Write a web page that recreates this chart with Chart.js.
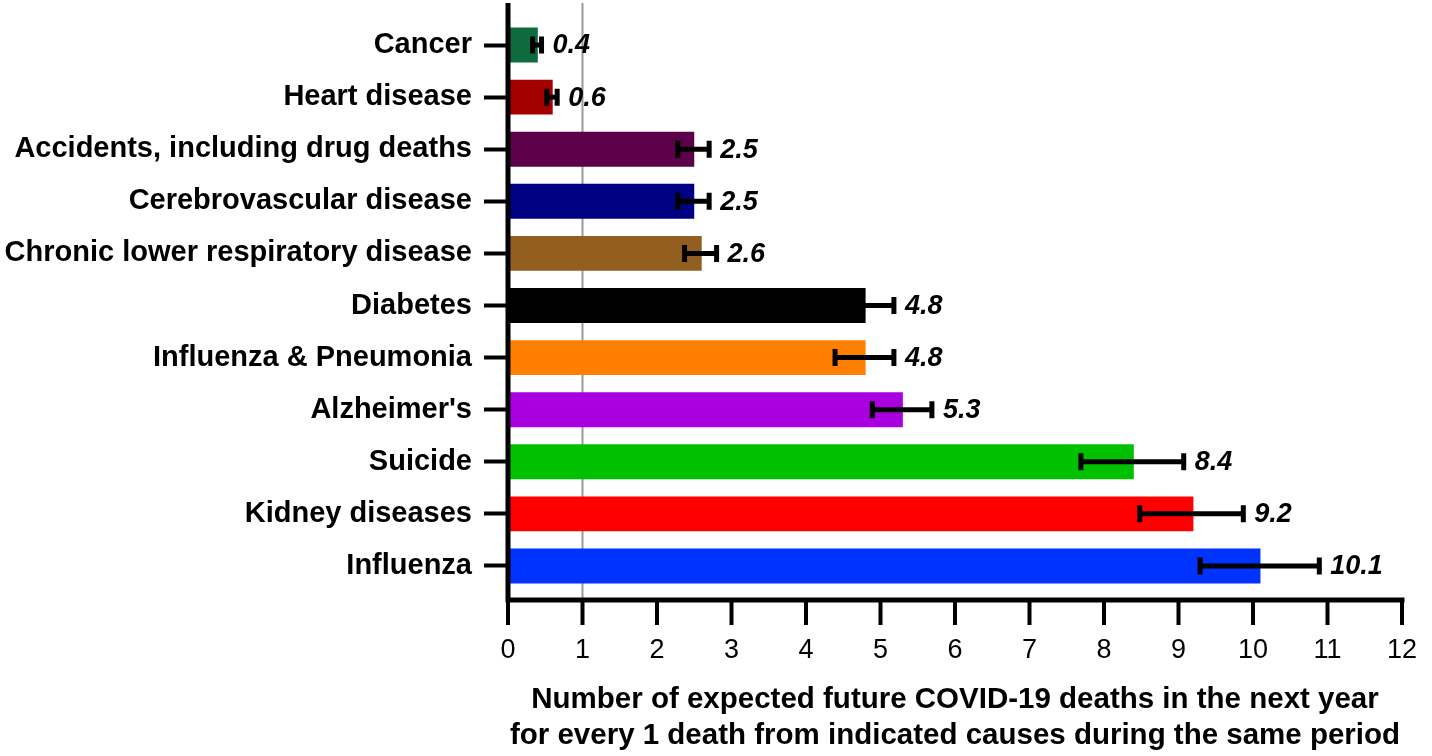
<!DOCTYPE html>
<html>
<head>
<meta charset="utf-8">
<script src="https://cdn.jsdelivr.net/npm/chart.js@4.4.1/dist/chart.umd.min.js"></script>
<style>
  html, body { margin: 0; padding: 0; background: #fff; }
  #wrap { width: 1432px; height: 756px; position: relative; }
</style>
</head>
<body>
<div id="wrap"><canvas id="barChart"></canvas></div>
<script>
// Dados
const categories = [
  "Cancer", "Heart disease", "Accidents, including drug deaths",
  "Cerebrovascular disease", "Chronic lower respiratory disease",
  "Diabetes", "Influenza & Pneumonia", "Alzheimer's", "Suicide",
  "Kidney diseases", "Influenza"
];
const values = [0.4, 0.6, 2.5, 2.5, 2.6, 4.8, 4.8, 5.3, 8.4, 9.2, 10.1];
const errLow = [0.33, 0.52, 2.28, 2.28, 2.37, 4.4, 4.39, 4.89, 7.69, 8.48, 9.29];
const errHigh = [0.45, 0.66, 2.7, 2.7, 2.8, 5.18, 5.18, 5.69, 9.07, 9.87, 10.89];
const barColors = [
  "#0d6b3e", "#a30000", "#5c0049", "#000083", "#925f20", "#000000",
  "#ff8000", "#a900e0", "#00c000", "#ff0000", "#0033ff"
];
const xTicks = [0, 1, 2, 3, 4, 5, 6, 7, 8, 9, 10, 11, 12];

const FONT = "'Liberation Sans', Arial, sans-serif";

// linha de referência em x=1, eixos e barras de erro
const decorPlugin = {
  id: "decor",
  beforeDatasetsDraw(chart) {
    const { ctx, scales: { x }, chartArea } = chart;
    const px = x.getPixelForValue(1);
    ctx.save();
    ctx.strokeStyle = "#9a9a9a";
    ctx.lineWidth = 2;
    ctx.beginPath();
    ctx.moveTo(px, chartArea.top - 16);
    ctx.lineTo(px, chartArea.bottom + 8);
    ctx.stroke();
    ctx.restore();
  },
  afterDatasetsDraw(chart) {
    const { ctx, scales: { x, y }, chartArea } = chart;
    ctx.save();
    ctx.strokeStyle = "#000";
    ctx.fillStyle = "#000";

    // barras de erro
    values.forEach((v, i) => {
      const cy = y.getPixelForValue(i);
      const x1 = x.getPixelForValue(errLow[i]);
      const x2 = x.getPixelForValue(errHigh[i]);
      ctx.lineWidth = 5;
      ctx.beginPath();
      ctx.moveTo(x1, cy);
      ctx.lineTo(x2, cy);
      ctx.stroke();
      ctx.beginPath();
      ctx.moveTo(x1, cy - 8.5);
      ctx.lineTo(x1, cy + 8.5);
      ctx.moveTo(x2, cy - 8.5);
      ctx.lineTo(x2, cy + 8.5);
      ctx.stroke();

      ctx.font = "italic bold 27px " + FONT;
      ctx.textBaseline = "middle";
      ctx.textAlign = "left";
      ctx.fillText(v.toFixed(1), x2 + 11, cy + 1);
    });

    // eixos
    const left = chartArea.left;
    const axisY = chartArea.bottom + 8;
    ctx.lineWidth = 5;
    ctx.beginPath();
    ctx.moveTo(left, chartArea.top - 16);
    ctx.lineTo(left, axisY + 2.5);
    ctx.moveTo(left - 2.5, axisY);
    ctx.lineTo(x.getPixelForValue(12) + 2.5, axisY);
    ctx.stroke();

    ctx.lineWidth = 4;
    ctx.beginPath();
    xTicks.forEach(t => {
      const px = x.getPixelForValue(t);
      ctx.moveTo(px, axisY);
      ctx.lineTo(px, axisY + 25);
    });
    ctx.stroke();
    ctx.restore();
  }
};

function createBarChart() {
  const ctx = document.getElementById("barChart");
  if (!ctx) return;

  new Chart(ctx, {
    type: "bar",
    data: {
      labels: categories,
      datasets: [{
        data: values,
        backgroundColor: barColors,
        borderWidth: 0,
        categoryPercentage: 1,
        barPercentage: 0.67
      }]
    },
    options: {
      indexAxis: "y",
      responsive: true,
      maintainAspectRatio: false,
      animation: false,
      layout: { padding: { top: 19, right: 30, bottom: 0, left: 0 } },
      plugins: {
        legend: { display: false },
        tooltip: { enabled: false }
      },
      scales: {
        x: {
          type: "linear",
          min: 0,
          max: 12,
          afterBuildTicks(scale) {
            scale.ticks = xTicks.map(v => ({ value: v }));
          },
          afterFit(scale) {
            scale.height = 164;
            scale.paddingLeft = 0;
            scale.paddingRight = 0;
          },
          grid: { display: false, drawTicks: false },
          border: { display: false },
          ticks: {
            padding: 42,
            color: "#000",
            maxRotation: 0,
            autoSkip: false,
            font: { family: FONT, size: 27 }
          },
          title: {
            display: true,
            text: [
              "Number of expected future COVID-19 deaths in the next year",
              "for every 1 death from indicated causes during the same period"
            ],
            color: "#000",
            font: { family: FONT, size: 29.5, weight: "bold", lineHeight: 1.22 },
            padding: { top: 0, bottom: 2 }
          }
        },
        y: {
          type: "category",
          offset: true,
          afterFit(scale) {
            scale.width = 508;
            scale.paddingTop = 0;
            scale.paddingBottom = 0;
          },
          grid: {
            display: true,
            offset: false,
            drawOnChartArea: false,
            drawTicks: true,
            tickLength: 24,
            tickWidth: 4,
            tickColor: "#000"
          },
          border: { display: false },
          ticks: {
            padding: 12,
            color: "#000",
            autoSkip: false,
            font: { family: FONT, size: 29, weight: "bold" }
          }
        }
      }
    },
    plugins: [decorPlugin]
  });
}

window.addEventListener("DOMContentLoaded", function() {
  createBarChart();
});
</script>
</body>
</html>
